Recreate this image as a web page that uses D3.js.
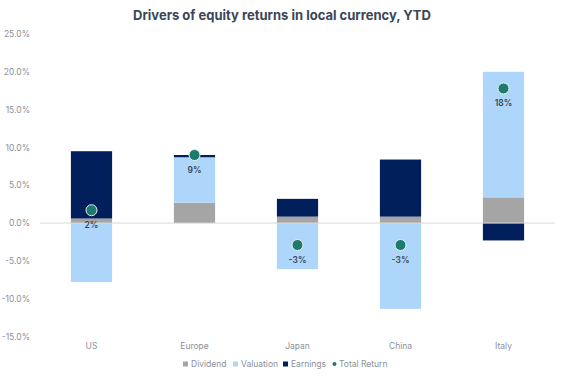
<!DOCTYPE html>
<html>
<head>
<meta charset="utf-8">
<script src="https://cdn.jsdelivr.net/npm/d3@7"></script>
<style>
  body { margin: 0; background: #fff; }
  svg { font-family: Inter, "Noto Sans", sans-serif; }
</style>
</head>
<body>
<svg width="565" height="378"></svg>
<script>
const regions = ['US', 'Europe', 'Japan', 'China', 'Italy'];
const dividend = [0.6, 2.7, 0.85, 0.85, 3.4];
const valuation = [-7.8, 6.0, -6.1, -11.35, 16.6];
const earnings = [8.9, 0.3, 2.35, 7.55, -2.3];
const totalReturn = [1.7, 9.0, -2.9, -2.9, 17.8];
const returnLabels = ['2%', '9%', '-3%', '-3%', '18%'];
const yTicks = [-15, -10, -5, 0, 5, 10, 15, 20, 25];

const seriesNames = ['Dividend', 'Valuation', 'Earnings'];
const seriesValues = [dividend, valuation, earnings];
const colors = ['#a5a5a5', '#aed6fb', '#001f5b'];
const dotColor = '#1d7a6c';

const svg = d3.select('svg');

const xScale = d3.scaleBand()
    .domain(regions)
    .range([40, 555])
    .paddingInner(0.6)
    .paddingOuter(0.3);
const yScale = d3.scaleLinear()
    .domain([-15, 25])
    .range([336.5, 34]);

svg.append('text')
    .attr('x', 282)
    .attr('y', 20)
    .attr('text-anchor', 'middle')
    .style('font-size', '13px')
    .style('font-weight', 700)
    .style('fill', '#3b4658')
    .text('Drivers of equity returns in local currency, YTD');

const yAxis = d3.axisLeft(yScale)
    .tickValues(yTicks)
    .tickFormat(d => d.toFixed(1) + '%')
    .tickSize(0)
    .tickPadding(0);
const yAxisG = svg.append('g')
    .attr('transform', 'translate(30, 0)')
    .call(yAxis);
yAxisG.select('.domain').remove();
yAxisG.selectAll('text')
    .style('font-family', 'Inter, "Noto Sans", sans-serif')
    .style('font-size', '8.5px')
    .style('fill', '#8c9099');

// build stacked segments: positives up from 0, negatives down from 0
const segments = [];
regions.forEach((r, i) => {
  let pos = 0, neg = 0;
  seriesValues.forEach((vals, s) => {
    const v = vals[i];
    if (v >= 0) {
      segments.push({ region: r, s: s, y0: pos, y1: pos + v });
      pos += v;
    } else {
      segments.push({ region: r, s: s, y0: neg + v, y1: neg });
      neg += v;
    }
  });
});

svg.append('g')
    .selectAll('rect')
    .data(segments)
    .enter()
    .append('rect')
    .attr('x', d => xScale(d.region))
    .attr('width', xScale.bandwidth())
    .attr('y', d => yScale(d.y1))
    .attr('height', d => yScale(d.y0) - yScale(d.y1))
    .style('fill', d => colors[d.s]);

svg.append('line')
    .attr('x1', 40)
    .attr('x2', 555)
    .attr('y1', yScale(0))
    .attr('y2', yScale(0))
    .style('stroke', '#d9d9d9')
    .style('stroke-width', '1px');

const xAxis = d3.axisBottom(xScale).tickSize(0).tickPadding(0);
const xAxisG = svg.append('g')
    .attr('transform', 'translate(0, 343)')
    .call(xAxis);
xAxisG.select('.domain').remove();
xAxisG.selectAll('text')
    .style('font-family', 'Inter, "Noto Sans", sans-serif')
    .style('font-size', '8.5px')
    .style('fill', '#8c9099');

svg.append('g')
    .selectAll('circle')
    .data(regions)
    .enter()
    .append('circle')
    .attr('cx', d => xScale(d) + xScale.bandwidth() / 2)
    .attr('cy', (d, i) => yScale(totalReturn[i]))
    .attr('r', 5.5)
    .style('fill', dotColor)
    .style('stroke', '#e8f2f0')
    .style('stroke-width', '1px');

svg.append('g')
    .selectAll('text')
    .data(regions)
    .enter()
    .append('text')
    .attr('x', d => xScale(d) + xScale.bandwidth() / 2)
    .attr('y', (d, i) => yScale(totalReturn[i]) + 18)
    .attr('text-anchor', 'middle')
    .style('font-size', '8.5px')
    .style('font-weight', 600)
    .style('fill', '#3b4658')
    .text((d, i) => returnLabels[i]);

// legend
const legendItems = [
  { name: 'Dividend', color: colors[0], x: 183, shape: 'rect' },
  { name: 'Valuation', color: colors[1], x: 233, shape: 'rect' },
  { name: 'Earnings', color: colors[2], x: 283, shape: 'rect' },
  { name: 'Total Return', color: dotColor, x: 332, shape: 'circle' }
];
const legend = svg.append('g')
    .selectAll('g')
    .data(legendItems)
    .enter()
    .append('g')
    .attr('transform', d => `translate(${d.x}, 364)`);
legend.filter(d => d.shape === 'rect')
    .append('rect')
    .attr('x', 0)
    .attr('y', -2.5)
    .attr('width', 5)
    .attr('height', 5)
    .style('fill', d => d.color);
legend.filter(d => d.shape === 'circle')
    .append('circle')
    .attr('cx', 2.5)
    .attr('cy', 0)
    .attr('r', 2)
    .style('fill', d => d.color);
legend.append('text')
    .attr('x', d => d.shape === 'rect' ? 8 : 7)
    .attr('y', 3)
    .style('font-size', '8.5px')
    .style('fill', '#8c9099')
    .text(d => d.name);
</script>
</body>
</html>
